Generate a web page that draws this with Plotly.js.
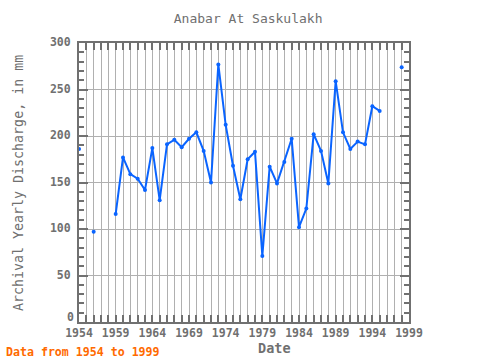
<!DOCTYPE html>
<html>
<head>
<meta charset="utf-8">
<script src="https://cdn.plot.ly/plotly-3.0.1.min.js"></script>
<style>html,body{margin:0;padding:0;background:#fff;}#chart{width:480px;height:360px;}</style>
</head>
<body>
<div id="chart"></div>
<script>
const years = [1954,1955,1956,1957,1958,1959,1960,1961,1962,1963,1964,1965,1966,1967,1968,1969,1970,1971,1972,1973,1974,1975,1976,1977,1978,1979,1980,1981,1982,1983,1984,1985,1986,1987,1988,1989,1990,1991,1992,1993,1994,1995,1996,1997,1998];
const discharge = [186,null,97,null,null,116,177,159,154,142,187,131,191,196,188,197,204,184,150,277,212,168,132,175,183,71,167,149,172,197,102,122,202,184,149,259,204,186,194,191,232,227,null,null,274];
const tickYears = [1954,1959,1964,1969,1974,1979,1984,1989,1994,1999];
const yTicks = [0,50,100,150,200,250,300];

const mono = "DejaVu Sans Mono, monospace";
const frame = "#707070";
const grid = "#b0b0b0";
const tfont = {family: mono, size: 11.5, color: '#707070', weight: 'bold'};

const trace = {
  x: years, y: discharge, type: 'scatter', mode: 'lines+markers',
  line: {color: '#0a64ff', width: 2},
  marker: {color: '#0a64ff', size: 4},
  connectgaps: false, cliponaxis: false, hoverinfo: 'skip'
};
// empty trace so the overlay axis carrying the raised "0" label is drawn
const helper = {x: [], y: [], type: 'scatter', mode: 'lines', yaxis: 'y2', hoverinfo: 'skip', showlegend: false};

const layout = {
  width: 480, height: 360,
  margin: {l: 79, r: 71, t: 43, b: 38, pad: 0},
  paper_bgcolor: '#ffffff', plot_bgcolor: '#ffffff',
  showlegend: false,
  title: {text: 'Anabar At Saskulakh', x: 0.517, xref: 'container', xanchor: 'center', y: 0.95, yref: 'container', yanchor: 'middle',
          font: {family: mono, size: 13, color: '#707070'}},
  xaxis: {
    range: [1954, 1999], tickvals: tickYears, ticktext: tickYears.map(String),
    showgrid: true, gridcolor: grid, gridwidth: 1,
    showline: true, linecolor: frame, linewidth: 2, mirror: 'allticks',
    ticks: 'inside', ticklen: 7, tickwidth: 2, tickcolor: frame,
    minor: {dtick: 1, tick0: 1954, ticks: 'inside', ticklen: 7, tickwidth: 2, tickcolor: frame, showgrid: true, gridcolor: grid, gridwidth: 1},
    tickfont: tfont,
    ticklabelstandoff: -1,
    zeroline: false, fixedrange: true
  },
  yaxis: {
    range: [0, 300], tickvals: yTicks.slice(1), ticktext: yTicks.slice(1).map(String),
    showgrid: true, gridcolor: grid, gridwidth: 1,
    showline: true, linecolor: frame, linewidth: 2, mirror: 'allticks',
    ticks: 'inside', ticklen: 9, tickwidth: 2, tickcolor: frame,
    minor: {dtick: 10, tick0: 0, ticks: 'inside', ticklen: 5, tickwidth: 2, tickcolor: frame, showgrid: false},
    tickfont: tfont,
    ticklabelstandoff: 4, ticklabelshift: -1,
    zeroline: false, fixedrange: true
  },
  yaxis2: {
    overlaying: 'y', side: 'left', anchor: 'x',
    range: [0, 300], tickvals: yTicks.slice(0, 1), ticktext: yTicks.slice(0, 1).map(String),
    showgrid: false, showline: false, ticks: '', zeroline: false,
    tickfont: tfont, ticklabelstandoff: 4, ticklabelshift: -5, fixedrange: true
  },
  annotations: [
    {text: 'Date', xref: 'paper', yref: 'paper', x: (274-79)/330, y: 0, yshift: -26, xanchor: 'center', yanchor: 'middle', showarrow: false,
     font: {family: mono, size: 13.5, color: '#707070', weight: 'bold'}},
    {text: 'Archival Yearly Discharge, in mm', xref: 'paper', yref: 'paper', x: 0, xshift: -61, y: (322-183)/279, xanchor: 'center', yanchor: 'middle', textangle: -90, showarrow: false,
     font: {family: mono, size: 13.3, color: '#707070'}},
    {text: 'Data from 1954 to 1999', xref: 'paper', yref: 'paper', x: 0, xshift: -75, y: 0, yshift: -30, xanchor: 'left', yanchor: 'middle', showarrow: false,
     font: {family: mono, size: 11.6, color: '#ff6a00', weight: 'bold'}}
  ]
};

Plotly.newPlot('chart', [trace, helper], layout, {staticPlot: true, displayModeBar: false});
</script>
</body>
</html>
